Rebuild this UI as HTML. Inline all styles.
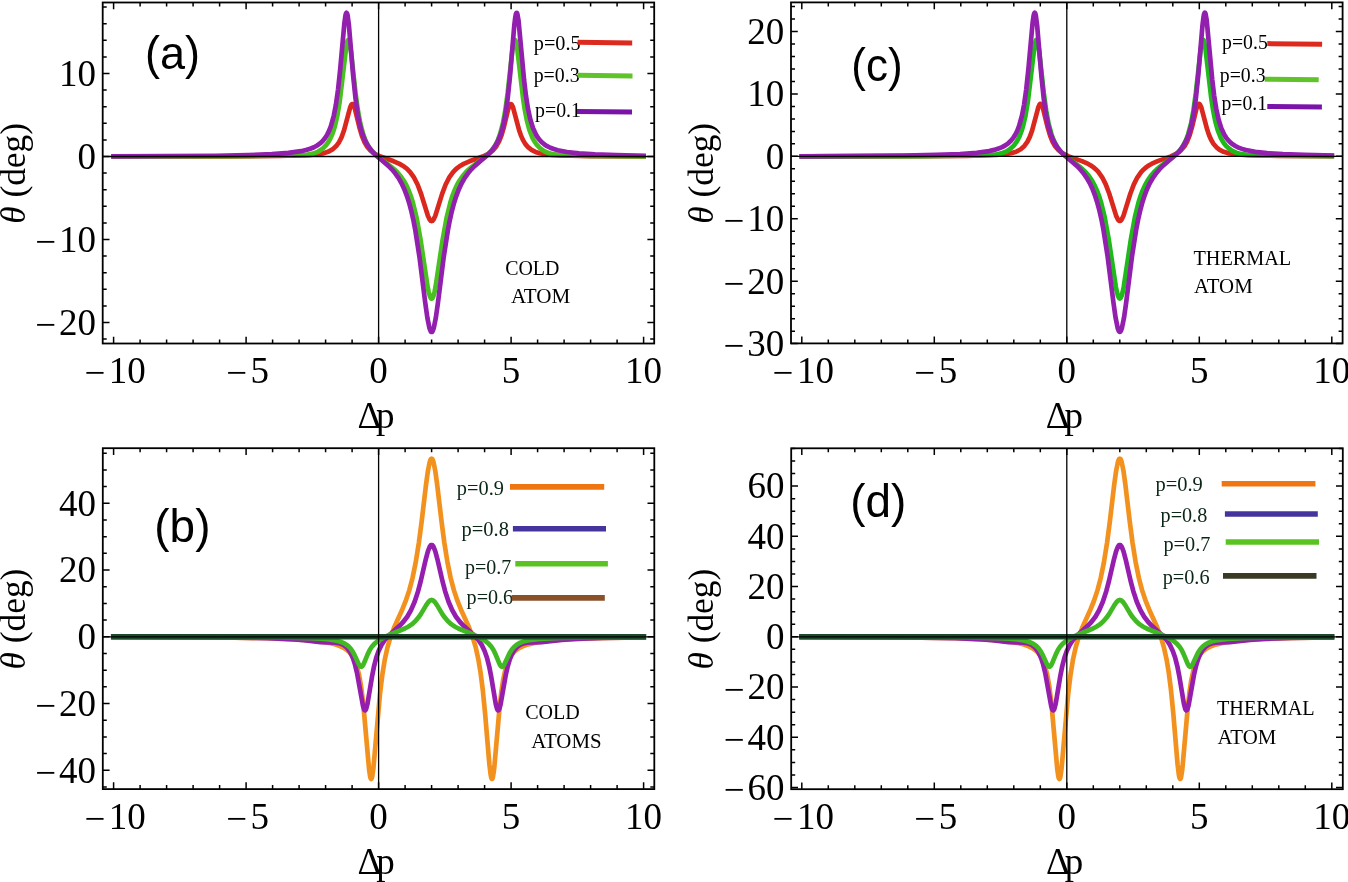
<!DOCTYPE html>
<html><head><meta charset="utf-8"><style>
html,body{margin:0;padding:0;background:#fff;}
svg{display:block;will-change:transform;}
</style></head><body>
<svg width="1348" height="882" viewBox="0 0 1348 882">
<rect width="1348" height="882" fill="#fff"/>
<clipPath id="clipA"><rect x="102.7" y="2.5" width="551.5" height="341"/></clipPath>
<clipPath id="clipC"><rect x="791" y="2.4" width="551.6" height="341"/></clipPath>
<clipPath id="clipB"><rect x="102.8" y="448.2" width="551.5" height="340.9"/></clipPath>
<clipPath id="clipD"><rect x="791.2" y="448.3" width="551.6" height="340.9"/></clipPath>
<g clip-path="url(#clipA)" fill="none" stroke-linejoin="round" stroke-linecap="square">
<polyline points="113.60,156.46 226.23,156.34 278.17,155.98 307.85,155.11 316.33,154.43 322.69,153.43 327.99,151.85 332.49,149.42 336.20,146.09 339.12,142.05 341.50,137.32 343.88,130.80 350.25,107.12 351.31,104.79 351.84,104.18 352.37,104.00 352.90,104.25 353.43,104.93 354.75,108.26 359.52,127.77 361.91,135.81 364.29,141.73 366.94,146.38 370.39,150.44 372.50,152.23 374.89,153.82 380.46,156.52 393.71,161.28 399.54,163.86 402.72,165.68 405.37,167.55 407.75,169.59 410.14,172.10 414.11,177.69 417.56,184.49 421.00,193.63 427.89,215.79 429.75,219.71 430.81,220.87 431.60,221.14 432.40,220.87 433.46,219.71 435.31,215.79 442.20,193.63 445.65,184.49 449.09,177.69 453.07,172.10 455.45,169.59 457.84,167.55 460.49,165.68 463.67,163.86 469.50,161.28 482.75,156.52 488.31,153.82 490.70,152.23 492.81,150.44 496.26,146.38 499.18,141.17 501.56,135.03 503.95,126.74 508.19,109.16 509.51,105.42 510.57,104.07 511.10,104.04 511.63,104.43 512.96,107.12 519.05,129.95 520.90,135.36 523.03,140.14 525.41,144.09 528.33,147.47 531.50,149.95 535.48,151.95 539.72,153.25 545.02,154.20 551.91,154.88 561.45,155.40 590.87,156.06 643.60,156.35" stroke="#da281e" stroke-width="4.7"/>
<polyline points="113.60,156.48 232.06,156.27 290.36,155.52 301.49,155.17 307.85,154.64 313.15,153.57 317.65,151.84 320.57,150.16 323.22,148.11 325.60,145.70 327.99,142.57 329.84,139.46 331.70,135.56 333.29,131.39 334.88,126.23 337.26,116.02 339.65,101.87 346.27,46.56 347.33,41.44 347.86,40.17 348.39,39.86 348.92,40.53 349.45,42.15 350.78,49.81 355.55,93.01 357.93,110.54 360.31,123.41 363.23,134.36 365.09,139.42 366.94,143.44 369.06,147.12 371.45,150.43 374.10,153.39 377.01,156.09 391.32,166.78 394.77,169.74 397.68,172.65 400.86,176.46 403.78,180.73 406.43,185.51 408.81,190.77 410.93,196.42 412.79,202.28 416.50,217.24 420.47,239.09 427.62,286.79 428.69,292.04 429.75,295.92 430.81,298.17 431.60,298.69 432.40,298.17 433.46,295.92 434.52,292.04 435.58,286.79 442.73,239.09 446.71,217.24 450.42,202.28 452.27,196.42 454.39,190.77 456.78,185.51 459.43,180.73 462.34,176.46 465.52,172.65 468.44,169.74 471.88,166.78 486.19,156.09 489.11,153.39 491.75,150.43 494.14,147.12 496.26,143.44 498.12,139.42 499.97,134.36 502.89,123.41 505.27,110.54 507.66,93.01 512.42,49.81 513.75,42.15 514.28,40.53 514.81,39.86 515.34,40.17 515.87,41.44 517.20,48.29 523.03,98.10 524.88,110.28 527.00,120.98 529.38,129.80 532.30,137.35 533.89,140.42 535.75,143.34 537.60,145.70 539.72,147.87 543.70,150.83 547.93,152.87 552.71,154.20 558.54,154.97 567.81,155.39 591.39,155.88 643.60,156.33" stroke="#48c020" stroke-width="4.7"/>
<polyline points="113.60,156.44 215.62,155.75 248.22,155.09 271.81,154.17 288.50,152.94 300.96,151.20 305.99,150.06 310.23,148.77 313.94,147.25 317.12,145.52 320.04,143.43 322.69,140.95 325.07,138.02 327.19,134.65 329.05,130.89 330.90,126.10 333.82,115.55 335.94,104.52 338.06,89.47 340.18,69.50 344.42,22.77 345.48,15.44 346.00,13.46 346.54,12.76 347.06,13.42 347.60,15.40 348.92,25.40 353.16,75.69 355.55,98.69 357.93,115.10 359.25,121.97 360.85,128.60 362.44,133.90 364.29,138.81 366.41,143.22 368.80,147.12 371.18,150.25 374.10,153.41 388.41,165.86 391.85,169.32 395.03,173.05 398.48,177.92 401.66,183.48 404.31,189.15 406.96,196.07 409.08,202.72 411.20,210.59 413.32,219.91 415.17,229.43 419.41,256.58 425.24,302.70 427.36,317.71 429.48,328.21 430.54,331.04 431.07,331.76 431.60,332.00 432.13,331.76 432.66,331.04 433.72,328.21 435.84,317.71 437.96,302.70 443.79,256.58 448.03,229.43 449.88,219.91 452.00,210.59 454.12,202.72 456.25,196.07 458.90,189.15 461.55,183.48 464.73,177.92 468.17,173.05 471.35,169.32 474.80,165.86 489.11,153.41 492.02,150.25 494.41,147.12 496.79,143.22 498.91,138.81 500.77,133.90 502.36,128.60 503.95,121.97 505.27,115.10 507.66,98.69 510.04,75.69 514.28,25.40 515.34,16.85 515.87,14.24 516.40,12.92 516.66,12.76 516.93,12.94 517.46,14.29 518.52,20.57 524.09,80.12 525.94,95.66 528.06,109.07 530.45,119.90 533.10,128.30 536.28,135.12 538.13,138.02 539.99,140.36 542.11,142.52 544.49,144.45 547.14,146.15 550.32,147.73 553.77,149.04 557.74,150.20 567.02,152.00 578.94,153.33 594.84,154.35 616.04,155.12 643.60,155.69" stroke="#931fae" stroke-width="4.7"/>
</g>
<line x1="102.7" y1="156.5" x2="654.2" y2="156.5" stroke="#000" stroke-width="1.3"/><line x1="378.6" y1="2.5" x2="378.6" y2="343.5" stroke="#000" stroke-width="1.3"/>
<g clip-path="url(#clipC)" fill="none" stroke-linejoin="round" stroke-linecap="square">
<polyline points="801.80,156.31 914.42,156.19 966.37,155.83 996.04,154.96 1004.52,154.28 1010.88,153.28 1016.18,151.70 1020.69,149.27 1024.40,145.94 1027.32,141.90 1029.70,137.17 1032.09,130.65 1038.44,106.97 1039.50,104.64 1040.03,104.03 1040.57,103.85 1041.10,104.10 1041.62,104.78 1042.95,108.11 1047.72,127.62 1050.11,135.66 1052.49,141.58 1055.14,146.23 1058.59,150.29 1060.70,152.08 1063.09,153.67 1068.65,156.37 1081.90,161.13 1087.73,163.71 1090.91,165.53 1093.57,167.40 1095.95,169.44 1098.34,171.95 1102.31,177.54 1105.75,184.34 1109.20,193.48 1116.09,215.64 1117.94,219.56 1119.00,220.72 1119.80,220.99 1120.60,220.72 1121.65,219.56 1123.51,215.64 1130.40,193.48 1133.85,184.34 1137.29,177.54 1141.26,171.95 1143.65,169.44 1146.03,167.40 1148.68,165.53 1151.87,163.71 1157.69,161.13 1170.94,156.37 1176.51,153.67 1178.89,152.08 1181.01,150.29 1184.46,146.23 1187.38,141.02 1189.76,134.88 1192.14,126.59 1196.38,109.01 1197.71,105.27 1198.77,103.92 1199.30,103.89 1199.83,104.28 1201.15,106.97 1207.25,129.80 1209.11,135.21 1211.22,139.99 1213.61,143.94 1216.53,147.32 1219.70,149.80 1223.68,151.80 1227.92,153.10 1233.22,154.05 1240.11,154.73 1249.65,155.25 1279.07,155.91 1331.80,156.20" stroke="#da281e" stroke-width="4.7"/>
<polyline points="801.80,156.33 920.25,156.12 978.55,155.37 989.68,155.02 996.04,154.49 1001.34,153.42 1005.85,151.69 1008.76,150.01 1011.41,147.96 1013.80,145.55 1016.18,142.42 1018.04,139.31 1019.89,135.41 1021.48,131.24 1023.07,126.08 1025.46,115.87 1027.85,101.72 1034.47,46.41 1035.53,41.29 1036.06,40.02 1036.59,39.71 1037.12,40.38 1037.65,42.00 1038.97,49.66 1043.74,92.86 1046.13,110.39 1048.51,123.26 1051.43,134.21 1053.28,139.27 1055.14,143.29 1057.26,146.97 1059.64,150.28 1062.29,153.24 1065.21,155.94 1079.52,166.63 1082.96,169.59 1085.88,172.50 1089.06,176.31 1091.97,180.58 1094.62,185.36 1097.01,190.62 1099.13,196.27 1100.98,202.13 1104.69,217.09 1108.67,238.94 1115.83,286.64 1116.88,291.89 1117.94,295.77 1119.00,298.02 1119.80,298.54 1120.60,298.02 1121.65,295.77 1122.71,291.89 1123.77,286.64 1130.93,238.94 1134.90,217.09 1138.62,202.13 1140.47,196.27 1142.59,190.62 1144.97,185.36 1147.62,180.58 1150.54,176.31 1153.72,172.50 1156.63,169.59 1160.08,166.63 1174.39,155.94 1177.30,153.24 1179.95,150.28 1182.34,146.97 1184.46,143.29 1186.32,139.27 1188.17,134.21 1191.09,123.26 1193.47,110.39 1195.86,92.86 1200.62,49.66 1201.95,42.00 1202.48,40.38 1203.01,39.71 1203.54,40.02 1204.07,41.29 1205.39,48.14 1211.22,97.95 1213.08,110.13 1215.20,120.83 1217.59,129.65 1220.50,137.20 1222.09,140.27 1223.94,143.19 1225.80,145.55 1227.92,147.72 1231.89,150.68 1236.13,152.72 1240.90,154.05 1246.73,154.82 1256.01,155.24 1279.60,155.73 1331.80,156.18" stroke="#1fb91a" stroke-width="4.7"/>
<polyline points="801.80,156.29 903.82,155.60 936.42,154.94 960.00,154.02 976.70,152.79 989.15,151.05 994.19,149.91 998.43,148.62 1002.14,147.10 1005.32,145.37 1008.23,143.29 1010.88,140.80 1013.27,137.87 1015.39,134.50 1017.25,130.74 1019.10,125.95 1022.01,115.40 1024.13,104.37 1026.25,89.32 1028.38,69.35 1032.62,22.62 1033.67,15.29 1034.20,13.31 1034.73,12.61 1035.26,13.27 1035.79,15.24 1037.12,25.25 1041.36,75.54 1043.74,98.54 1046.13,114.95 1047.45,121.82 1049.04,128.45 1050.63,133.75 1052.49,138.66 1054.61,143.07 1056.99,146.97 1059.38,150.10 1062.29,153.26 1076.61,165.71 1080.05,169.17 1083.23,172.90 1086.67,177.77 1089.86,183.33 1092.50,189.00 1095.15,195.92 1097.27,202.57 1099.39,210.44 1101.51,219.76 1103.37,229.28 1107.61,256.43 1113.44,302.55 1115.56,317.56 1117.68,328.06 1118.74,330.89 1119.27,331.61 1119.80,331.85 1120.33,331.61 1120.86,330.89 1121.92,328.06 1124.04,317.56 1126.16,302.55 1131.99,256.43 1136.23,229.28 1138.09,219.76 1140.20,210.44 1142.33,202.57 1144.44,195.92 1147.10,189.00 1149.74,183.33 1152.92,177.77 1156.37,172.90 1159.55,169.17 1162.99,165.71 1177.30,153.26 1180.22,150.10 1182.61,146.97 1184.99,143.07 1187.11,138.66 1188.96,133.75 1190.55,128.45 1192.14,121.82 1193.47,114.95 1195.86,98.54 1198.24,75.54 1202.48,25.25 1203.54,16.71 1204.07,14.09 1204.60,12.77 1204.87,12.61 1205.13,12.79 1205.66,14.14 1206.72,20.42 1212.28,79.97 1214.14,95.51 1216.26,108.92 1218.64,119.75 1221.30,128.15 1224.47,134.97 1226.33,137.87 1228.18,140.21 1230.30,142.37 1232.69,144.30 1235.34,146.00 1238.52,147.58 1241.96,148.89 1245.94,150.05 1255.21,151.85 1267.14,153.18 1283.04,154.20 1304.24,154.97 1331.80,155.54" stroke="#931fae" stroke-width="4.7"/>
</g>
<line x1="791" y1="156.35" x2="1342.6" y2="156.35" stroke="#000" stroke-width="1.3"/><line x1="1066.8" y1="2.4" x2="1066.8" y2="343.4" stroke="#000" stroke-width="1.3"/>
<g clip-path="url(#clipB)" fill="none" stroke-linejoin="round" stroke-linecap="square">
<polyline points="113.60,637.09 232.59,637.68 266.77,638.23 291.42,639.05 310.50,640.30 324.81,642.07 330.63,643.21 335.67,644.54 339.91,646.03 343.62,647.80 346.54,649.68 348.92,651.71 351.31,654.45 353.16,657.30 354.75,660.47 356.34,664.57 358.99,674.46 361.11,686.42 363.23,703.44 369.06,769.13 370.12,776.41 370.65,778.33 371.18,778.98 371.71,778.32 372.24,776.41 373.30,769.22 379.93,694.52 382.31,674.81 384.70,660.08 387.35,647.89 390.53,637.03 394.24,627.31 402.19,609.71 405.63,601.24 409.34,590.13 412.52,578.02 415.70,562.50 418.88,542.60 421.53,522.46 426.04,484.58 427.89,471.16 429.75,461.91 430.81,459.21 431.60,458.59 432.40,459.21 433.46,461.91 435.31,471.16 437.17,484.58 441.67,522.46 444.32,542.60 447.50,562.50 450.68,578.02 453.86,590.13 457.57,601.24 461.01,609.71 468.97,627.31 472.68,637.03 475.86,647.89 478.50,660.08 480.62,672.95 482.75,689.64 485.13,713.89 489.37,764.26 490.70,775.01 491.23,777.52 491.75,778.81 492.02,778.98 492.29,778.82 492.81,777.52 494.14,769.13 499.71,705.97 501.30,692.15 503.15,679.89 505.27,669.95 507.92,661.71 509.51,658.27 511.10,655.57 512.96,653.13 514.81,651.21 517.20,649.30 520.11,647.52 523.56,645.93 527.27,644.62 536.54,642.40 548.73,640.69 563.84,639.47 583.45,638.59 609.15,637.97 643.60,637.55" stroke="#f2911e" stroke-width="4.7"/>
<polyline points="113.60,636.98 215.62,637.31 267.83,638.09 294.07,639.34 303.87,640.22 320.57,642.13 334.88,642.65 339.91,643.49 342.03,644.27 343.88,645.27 345.74,646.64 347.33,648.20 350.25,652.30 352.90,658.03 355.02,664.62 357.14,673.55 362.97,705.89 364.03,709.31 364.56,710.16 365.09,710.38 365.62,709.94 366.15,708.87 367.47,703.79 371.98,676.80 374.10,666.07 376.22,657.82 378.60,650.92 381.52,644.86 384.96,639.77 388.94,635.41 398.74,626.61 402.98,622.24 407.22,616.71 410.93,610.30 414.64,601.73 418.09,591.16 420.47,582.19 425.77,559.33 427.89,551.39 429.75,546.68 430.81,545.31 431.60,545.00 432.40,545.31 433.46,546.68 435.31,551.39 437.43,559.33 442.73,582.19 445.12,591.16 448.56,601.73 452.27,610.30 455.98,616.71 460.22,622.24 464.46,626.61 474.26,635.41 478.24,639.77 481.69,644.86 484.60,650.92 486.99,657.82 489.11,666.07 491.23,676.80 495.73,703.79 497.06,708.87 497.59,709.94 498.12,710.38 498.65,710.16 499.18,709.31 500.50,704.73 505.80,674.85 507.66,666.62 509.51,660.26 511.63,654.87 514.28,650.20 517.20,646.87 520.64,644.52 523.82,643.34 527.27,642.74 541.58,642.22 561.72,639.98 575.50,638.92 602.26,637.91 643.60,637.34" stroke="#961eaf" stroke-width="4.7"/>
<polyline points="113.60,636.91 220.66,637.09 277.90,637.45 310.23,638.15 320.83,638.70 329.05,639.45 335.41,640.44 340.44,641.76 344.42,643.44 347.86,645.76 350.25,648.14 352.37,651.04 354.49,654.87 358.99,664.69 360.31,666.44 361.38,666.78 362.44,666.05 363.50,664.37 367.74,654.12 369.86,649.82 371.98,646.57 374.62,643.63 378.34,640.72 383.90,637.49 390.79,634.23 404.84,628.49 408.55,626.53 411.73,624.39 415.44,621.09 418.62,617.32 421.00,613.83 426.04,605.34 428.16,602.24 430.01,600.47 431.60,599.96 433.19,600.47 435.05,602.24 437.17,605.34 442.20,613.83 444.59,617.32 447.76,621.09 451.48,624.39 454.66,626.53 458.37,628.49 472.41,634.23 479.30,637.49 484.87,640.72 488.58,643.63 491.23,646.57 493.35,649.82 495.47,654.12 499.71,664.37 500.77,666.05 501.83,666.78 502.89,666.44 503.95,665.14 509.78,652.83 511.90,649.48 514.02,646.99 516.66,644.74 519.58,643.04 523.29,641.59 527.53,640.50 533.10,639.58 539.99,638.88 559.33,637.93 590.87,637.39 643.60,637.08" stroke="#41b923" stroke-width="4.7"/>
<polyline points="113.60,636.80 643.60,636.80" stroke="#1e4a2c" stroke-width="5.4"/>
</g>
<line x1="102.8" y1="636.8" x2="654.3" y2="636.8" stroke="#000" stroke-width="1.3"/><line x1="378.6" y1="448.2" x2="378.6" y2="789.1" stroke="#000" stroke-width="1.3"/>
<g clip-path="url(#clipD)" fill="none" stroke-linejoin="round" stroke-linecap="square">
<polyline points="801.80,637.09 920.78,637.68 954.97,638.23 979.62,639.05 998.69,640.30 1013.00,642.07 1018.83,643.21 1023.87,644.54 1028.11,646.03 1031.82,647.80 1034.73,649.68 1037.12,651.71 1039.50,654.45 1041.36,657.30 1042.95,660.47 1044.54,664.57 1047.19,674.46 1049.31,686.42 1051.43,703.44 1057.26,769.13 1058.32,776.41 1058.85,778.33 1059.38,778.98 1059.91,778.32 1060.44,776.41 1061.50,769.22 1068.12,694.52 1070.51,674.81 1072.89,660.07 1075.54,647.89 1078.72,637.03 1082.43,627.31 1090.38,609.71 1093.83,601.24 1097.54,590.13 1100.72,578.02 1103.90,562.50 1107.08,542.60 1109.73,522.46 1114.23,484.58 1116.09,471.16 1117.94,461.91 1119.00,459.21 1119.80,458.59 1120.60,459.21 1121.65,461.91 1123.51,471.16 1125.37,484.58 1129.87,522.46 1132.52,542.60 1135.70,562.50 1138.88,578.02 1142.06,590.13 1145.77,601.24 1149.21,609.71 1157.16,627.31 1160.88,637.03 1164.05,647.89 1166.70,660.07 1168.83,672.95 1170.94,689.64 1173.33,713.89 1177.57,764.26 1178.89,775.01 1179.42,777.52 1179.95,778.81 1180.22,778.98 1180.48,778.82 1181.01,777.52 1182.34,769.13 1187.90,705.97 1189.49,692.15 1191.35,679.89 1193.47,669.95 1196.12,661.71 1197.71,658.27 1199.30,655.57 1201.15,653.13 1203.01,651.21 1205.39,649.30 1208.31,647.52 1211.75,645.93 1215.46,644.62 1224.74,642.40 1236.93,640.69 1252.03,639.47 1271.64,638.59 1297.35,637.97 1331.80,637.55" stroke="#f2911e" stroke-width="4.7"/>
<polyline points="801.80,636.98 903.82,637.31 956.03,638.09 982.26,639.34 992.07,640.22 1008.76,642.13 1023.07,642.65 1028.11,643.49 1030.23,644.27 1032.09,645.27 1033.94,646.64 1035.53,648.20 1038.44,652.30 1041.10,658.03 1043.21,664.62 1045.34,673.55 1051.16,705.89 1052.22,709.31 1052.75,710.16 1053.28,710.38 1053.82,709.94 1054.35,708.87 1055.67,703.79 1060.17,676.80 1062.29,666.07 1064.41,657.82 1066.80,650.92 1069.71,644.86 1073.16,639.77 1077.13,635.41 1086.94,626.61 1091.18,622.24 1095.42,616.71 1099.13,610.30 1102.84,601.73 1106.28,591.16 1108.67,582.19 1113.97,559.33 1116.09,551.38 1117.94,546.68 1119.00,545.31 1119.80,545.00 1120.60,545.31 1121.65,546.68 1123.51,551.38 1125.63,559.33 1130.93,582.19 1133.32,591.16 1136.76,601.73 1140.47,610.30 1144.18,616.71 1148.42,622.24 1152.66,626.61 1162.46,635.41 1166.44,639.77 1169.88,644.86 1172.80,650.92 1175.18,657.82 1177.30,666.07 1179.42,676.80 1183.93,703.79 1185.25,708.87 1185.78,709.94 1186.32,710.38 1186.85,710.16 1187.38,709.31 1188.70,704.73 1194.00,674.85 1195.86,666.62 1197.71,660.26 1199.83,654.87 1202.48,650.20 1205.39,646.87 1208.84,644.52 1212.02,643.34 1215.46,642.74 1229.78,642.22 1249.91,639.98 1263.69,638.92 1290.46,637.91 1331.80,637.34" stroke="#961eaf" stroke-width="4.7"/>
<polyline points="801.80,636.91 908.86,637.09 966.10,637.45 998.43,638.15 1009.03,638.70 1017.25,639.45 1023.60,640.44 1028.64,641.76 1032.62,643.44 1036.06,645.76 1038.44,648.14 1040.57,651.04 1042.68,654.87 1047.19,664.69 1048.51,666.44 1049.58,666.78 1050.63,666.05 1051.69,664.37 1055.93,654.12 1058.06,649.82 1060.17,646.57 1062.83,643.63 1066.53,640.72 1072.10,637.49 1078.99,634.23 1093.03,628.49 1096.74,626.53 1099.92,624.39 1103.63,621.09 1106.82,617.32 1109.20,613.83 1114.23,605.34 1116.36,602.24 1118.21,600.47 1119.80,599.96 1121.39,600.47 1123.24,602.24 1125.37,605.34 1130.40,613.83 1132.78,617.32 1135.96,621.09 1139.67,624.39 1142.86,626.53 1146.57,628.49 1160.61,634.23 1167.50,637.49 1173.07,640.72 1176.77,643.63 1179.42,646.57 1181.55,649.82 1183.66,654.12 1187.90,664.37 1188.96,666.05 1190.02,666.78 1191.09,666.44 1192.14,665.14 1197.97,652.83 1200.10,649.48 1202.21,646.99 1204.87,644.74 1207.78,643.04 1211.49,641.59 1215.73,640.50 1221.30,639.58 1228.18,638.88 1247.53,637.93 1279.07,637.39 1331.80,637.08" stroke="#41b923" stroke-width="4.7"/>
<polyline points="801.80,636.80 1331.80,636.80" stroke="#1e4a2c" stroke-width="5.4"/>
</g>
<line x1="791.2" y1="636.8" x2="1342.8" y2="636.8" stroke="#000" stroke-width="1.3"/><line x1="1066.8" y1="448.3" x2="1066.8" y2="789.2" stroke="#000" stroke-width="1.3"/>
<path d="M113.60 343.50v-6.8M113.60 2.50v6.8M140.10 343.50v-4.0M140.10 2.50v4.0M166.60 343.50v-4.0M166.60 2.50v4.0M193.10 343.50v-4.0M193.10 2.50v4.0M219.60 343.50v-4.0M219.60 2.50v4.0M246.10 343.50v-6.8M246.10 2.50v6.8M272.60 343.50v-4.0M272.60 2.50v4.0M299.10 343.50v-4.0M299.10 2.50v4.0M325.60 343.50v-4.0M325.60 2.50v4.0M352.10 343.50v-4.0M352.10 2.50v4.0M378.60 343.50v-6.8M378.60 2.50v6.8M405.10 343.50v-4.0M405.10 2.50v4.0M431.60 343.50v-4.0M431.60 2.50v4.0M458.10 343.50v-4.0M458.10 2.50v4.0M484.60 343.50v-4.0M484.60 2.50v4.0M511.10 343.50v-6.8M511.10 2.50v6.8M537.60 343.50v-4.0M537.60 2.50v4.0M564.10 343.50v-4.0M564.10 2.50v4.0M590.60 343.50v-4.0M590.60 2.50v4.0M617.10 343.50v-4.0M617.10 2.50v4.0M643.60 343.50v-6.8M643.60 2.50v6.8M102.70 339.10h4.0M654.20 339.10h-4.0M102.70 322.50h6.8M654.20 322.50h-6.8M102.70 305.90h4.0M654.20 305.90h-4.0M102.70 289.30h4.0M654.20 289.30h-4.0M102.70 272.70h4.0M654.20 272.70h-4.0M102.70 256.10h4.0M654.20 256.10h-4.0M102.70 239.50h6.8M654.20 239.50h-6.8M102.70 222.90h4.0M654.20 222.90h-4.0M102.70 206.30h4.0M654.20 206.30h-4.0M102.70 189.70h4.0M654.20 189.70h-4.0M102.70 173.10h4.0M654.20 173.10h-4.0M102.70 156.50h6.8M654.20 156.50h-6.8M102.70 139.90h4.0M654.20 139.90h-4.0M102.70 123.30h4.0M654.20 123.30h-4.0M102.70 106.70h4.0M654.20 106.70h-4.0M102.70 90.10h4.0M654.20 90.10h-4.0M102.70 73.50h6.8M654.20 73.50h-6.8M102.70 56.90h4.0M654.20 56.90h-4.0M102.70 40.30h4.0M654.20 40.30h-4.0M102.70 23.70h4.0M654.20 23.70h-4.0M102.70 7.10h4.0M654.20 7.10h-4.0" stroke="#000" stroke-width="1.5" fill="none"/>
<rect x="102.7" y="2.5" width="551.5" height="341" fill="none" stroke="#000" stroke-width="1.8"/>
<text x="96.00" y="334.90" text-anchor="end" font-family='"Liberation Serif", serif' font-size="37"><tspan dy="2.3">−</tspan><tspan dx="3" dy="-2.3">20</tspan></text>
<text x="96.00" y="251.90" text-anchor="end" font-family='"Liberation Serif", serif' font-size="37"><tspan dy="2.3">−</tspan><tspan dx="3" dy="-2.3">10</tspan></text>
<text x="96.00" y="168.90" text-anchor="end" font-family='"Liberation Serif", serif' font-size="37">0</text>
<text x="96.00" y="85.90" text-anchor="end" font-family='"Liberation Serif", serif' font-size="37">10</text>
<text x="115.10" y="383.10" text-anchor="middle" font-family='"Liberation Serif", serif' font-size="37"><tspan dy="2.3">−</tspan><tspan dx="3.5" dy="-2.3">10</tspan></text>
<text x="247.60" y="383.10" text-anchor="middle" font-family='"Liberation Serif", serif' font-size="37"><tspan dy="2.3">−</tspan><tspan dx="3.5" dy="-2.3">5</tspan></text>
<text x="378.60" y="383.10" text-anchor="middle" font-family='"Liberation Serif", serif' font-size="37">0</text>
<text x="511.10" y="383.10" text-anchor="middle" font-family='"Liberation Serif", serif' font-size="37">5</text>
<text x="643.60" y="383.10" text-anchor="middle" font-family='"Liberation Serif", serif' font-size="37">10</text>
<text x="376.05" y="428.30" text-anchor="middle" font-family='"Liberation Serif", serif' font-size="37">Δ<tspan dx="-5.2">p</tspan></text>
<text transform="translate(24.90,173.40) rotate(-90)" text-anchor="middle" font-family='"Liberation Serif", serif' font-size="36" textLength="100.8" lengthAdjust="spacingAndGlyphs"><tspan font-style="italic">θ</tspan> (deg)</text>
<path d="M801.80 343.40v-6.8M801.80 2.40v6.8M828.30 343.40v-4.0M828.30 2.40v4.0M854.80 343.40v-4.0M854.80 2.40v4.0M881.30 343.40v-4.0M881.30 2.40v4.0M907.80 343.40v-4.0M907.80 2.40v4.0M934.30 343.40v-6.8M934.30 2.40v6.8M960.80 343.40v-4.0M960.80 2.40v4.0M987.30 343.40v-4.0M987.30 2.40v4.0M1013.80 343.40v-4.0M1013.80 2.40v4.0M1040.30 343.40v-4.0M1040.30 2.40v4.0M1066.80 343.40v-6.8M1066.80 2.40v6.8M1093.30 343.40v-4.0M1093.30 2.40v4.0M1119.80 343.40v-4.0M1119.80 2.40v4.0M1146.30 343.40v-4.0M1146.30 2.40v4.0M1172.80 343.40v-4.0M1172.80 2.40v4.0M1199.30 343.40v-6.8M1199.30 2.40v6.8M1225.80 343.40v-4.0M1225.80 2.40v4.0M1252.30 343.40v-4.0M1252.30 2.40v4.0M1278.80 343.40v-4.0M1278.80 2.40v4.0M1305.30 343.40v-4.0M1305.30 2.40v4.0M1331.80 343.40v-6.8M1331.80 2.40v6.8M791.00 343.62h6.8M1342.60 343.62h-6.8M791.00 331.14h4.0M1342.60 331.14h-4.0M791.00 318.65h4.0M1342.60 318.65h-4.0M791.00 306.17h4.0M1342.60 306.17h-4.0M791.00 293.68h4.0M1342.60 293.68h-4.0M791.00 281.20h6.8M1342.60 281.20h-6.8M791.00 268.71h4.0M1342.60 268.71h-4.0M791.00 256.23h4.0M1342.60 256.23h-4.0M791.00 243.75h4.0M1342.60 243.75h-4.0M791.00 231.26h4.0M1342.60 231.26h-4.0M791.00 218.77h6.8M1342.60 218.77h-6.8M791.00 206.29h4.0M1342.60 206.29h-4.0M791.00 193.81h4.0M1342.60 193.81h-4.0M791.00 181.32h4.0M1342.60 181.32h-4.0M791.00 168.83h4.0M1342.60 168.83h-4.0M791.00 156.35h6.8M1342.60 156.35h-6.8M791.00 143.87h4.0M1342.60 143.87h-4.0M791.00 131.38h4.0M1342.60 131.38h-4.0M791.00 118.89h4.0M1342.60 118.89h-4.0M791.00 106.41h4.0M1342.60 106.41h-4.0M791.00 93.92h6.8M1342.60 93.92h-6.8M791.00 81.44h4.0M1342.60 81.44h-4.0M791.00 68.95h4.0M1342.60 68.95h-4.0M791.00 56.47h4.0M1342.60 56.47h-4.0M791.00 43.98h4.0M1342.60 43.98h-4.0M791.00 31.50h6.8M1342.60 31.50h-6.8M791.00 19.02h4.0M1342.60 19.02h-4.0M791.00 6.53h4.0M1342.60 6.53h-4.0" stroke="#000" stroke-width="1.5" fill="none"/>
<rect x="791" y="2.4" width="551.6" height="341" fill="none" stroke="#000" stroke-width="1.8"/>
<text x="784.30" y="356.02" text-anchor="end" font-family='"Liberation Serif", serif' font-size="37"><tspan dy="2.3">−</tspan><tspan dx="3" dy="-2.3">30</tspan></text>
<text x="784.30" y="293.60" text-anchor="end" font-family='"Liberation Serif", serif' font-size="37"><tspan dy="2.3">−</tspan><tspan dx="3" dy="-2.3">20</tspan></text>
<text x="784.30" y="231.17" text-anchor="end" font-family='"Liberation Serif", serif' font-size="37"><tspan dy="2.3">−</tspan><tspan dx="3" dy="-2.3">10</tspan></text>
<text x="784.30" y="168.75" text-anchor="end" font-family='"Liberation Serif", serif' font-size="37">0</text>
<text x="784.30" y="106.33" text-anchor="end" font-family='"Liberation Serif", serif' font-size="37">10</text>
<text x="784.30" y="43.90" text-anchor="end" font-family='"Liberation Serif", serif' font-size="37">20</text>
<text x="803.30" y="383.00" text-anchor="middle" font-family='"Liberation Serif", serif' font-size="37"><tspan dy="2.3">−</tspan><tspan dx="3.5" dy="-2.3">10</tspan></text>
<text x="935.80" y="383.00" text-anchor="middle" font-family='"Liberation Serif", serif' font-size="37"><tspan dy="2.3">−</tspan><tspan dx="3.5" dy="-2.3">5</tspan></text>
<text x="1066.80" y="383.00" text-anchor="middle" font-family='"Liberation Serif", serif' font-size="37">0</text>
<text x="1199.30" y="383.00" text-anchor="middle" font-family='"Liberation Serif", serif' font-size="37">5</text>
<text x="1331.80" y="383.00" text-anchor="middle" font-family='"Liberation Serif", serif' font-size="37">10</text>
<text x="1064.40" y="428.20" text-anchor="middle" font-family='"Liberation Serif", serif' font-size="37">Δ<tspan dx="-5.2">p</tspan></text>
<text transform="translate(713.20,173.30) rotate(-90)" text-anchor="middle" font-family='"Liberation Serif", serif' font-size="36" textLength="100.8" lengthAdjust="spacingAndGlyphs"><tspan font-style="italic">θ</tspan> (deg)</text>
<path d="M113.60 789.10v-6.8M113.60 448.20v6.8M140.10 789.10v-4.0M140.10 448.20v4.0M166.60 789.10v-4.0M166.60 448.20v4.0M193.10 789.10v-4.0M193.10 448.20v4.0M219.60 789.10v-4.0M219.60 448.20v4.0M246.10 789.10v-6.8M246.10 448.20v6.8M272.60 789.10v-4.0M272.60 448.20v4.0M299.10 789.10v-4.0M299.10 448.20v4.0M325.60 789.10v-4.0M325.60 448.20v4.0M352.10 789.10v-4.0M352.10 448.20v4.0M378.60 789.10v-6.8M378.60 448.20v6.8M405.10 789.10v-4.0M405.10 448.20v4.0M431.60 789.10v-4.0M431.60 448.20v4.0M458.10 789.10v-4.0M458.10 448.20v4.0M484.60 789.10v-4.0M484.60 448.20v4.0M511.10 789.10v-6.8M511.10 448.20v6.8M537.60 789.10v-4.0M537.60 448.20v4.0M564.10 789.10v-4.0M564.10 448.20v4.0M590.60 789.10v-4.0M590.60 448.20v4.0M617.10 789.10v-4.0M617.10 448.20v4.0M643.60 789.10v-6.8M643.60 448.20v6.8M102.80 786.99h4.0M654.30 786.99h-4.0M102.80 770.30h6.8M654.30 770.30h-6.8M102.80 753.61h4.0M654.30 753.61h-4.0M102.80 736.92h4.0M654.30 736.92h-4.0M102.80 720.24h4.0M654.30 720.24h-4.0M102.80 703.55h6.8M654.30 703.55h-6.8M102.80 686.86h4.0M654.30 686.86h-4.0M102.80 670.17h4.0M654.30 670.17h-4.0M102.80 653.49h4.0M654.30 653.49h-4.0M102.80 636.80h6.8M654.30 636.80h-6.8M102.80 620.11h4.0M654.30 620.11h-4.0M102.80 603.42h4.0M654.30 603.42h-4.0M102.80 586.74h4.0M654.30 586.74h-4.0M102.80 570.05h6.8M654.30 570.05h-6.8M102.80 553.36h4.0M654.30 553.36h-4.0M102.80 536.67h4.0M654.30 536.67h-4.0M102.80 519.99h4.0M654.30 519.99h-4.0M102.80 503.30h6.8M654.30 503.30h-6.8M102.80 486.61h4.0M654.30 486.61h-4.0M102.80 469.92h4.0M654.30 469.92h-4.0M102.80 453.24h4.0M654.30 453.24h-4.0" stroke="#000" stroke-width="1.5" fill="none"/>
<rect x="102.8" y="448.2" width="551.5" height="340.9" fill="none" stroke="#000" stroke-width="1.8"/>
<text x="96.10" y="782.70" text-anchor="end" font-family='"Liberation Serif", serif' font-size="37"><tspan dy="2.3">−</tspan><tspan dx="3" dy="-2.3">40</tspan></text>
<text x="96.10" y="715.95" text-anchor="end" font-family='"Liberation Serif", serif' font-size="37"><tspan dy="2.3">−</tspan><tspan dx="3" dy="-2.3">20</tspan></text>
<text x="96.10" y="649.20" text-anchor="end" font-family='"Liberation Serif", serif' font-size="37">0</text>
<text x="96.10" y="582.45" text-anchor="end" font-family='"Liberation Serif", serif' font-size="37">20</text>
<text x="96.10" y="515.70" text-anchor="end" font-family='"Liberation Serif", serif' font-size="37">40</text>
<text x="115.10" y="828.70" text-anchor="middle" font-family='"Liberation Serif", serif' font-size="37"><tspan dy="2.3">−</tspan><tspan dx="3.5" dy="-2.3">10</tspan></text>
<text x="247.60" y="828.70" text-anchor="middle" font-family='"Liberation Serif", serif' font-size="37"><tspan dy="2.3">−</tspan><tspan dx="3.5" dy="-2.3">5</tspan></text>
<text x="378.60" y="828.70" text-anchor="middle" font-family='"Liberation Serif", serif' font-size="37">0</text>
<text x="511.10" y="828.70" text-anchor="middle" font-family='"Liberation Serif", serif' font-size="37">5</text>
<text x="643.60" y="828.70" text-anchor="middle" font-family='"Liberation Serif", serif' font-size="37">10</text>
<text x="376.15" y="873.90" text-anchor="middle" font-family='"Liberation Serif", serif' font-size="37">Δ<tspan dx="-5.2">p</tspan></text>
<text transform="translate(25.00,619.05) rotate(-90)" text-anchor="middle" font-family='"Liberation Serif", serif' font-size="36" textLength="100.8" lengthAdjust="spacingAndGlyphs"><tspan font-style="italic">θ</tspan> (deg)</text>
<path d="M801.80 789.20v-6.8M801.80 448.30v6.8M828.30 789.20v-4.0M828.30 448.30v4.0M854.80 789.20v-4.0M854.80 448.30v4.0M881.30 789.20v-4.0M881.30 448.30v4.0M907.80 789.20v-4.0M907.80 448.30v4.0M934.30 789.20v-6.8M934.30 448.30v6.8M960.80 789.20v-4.0M960.80 448.30v4.0M987.30 789.20v-4.0M987.30 448.30v4.0M1013.80 789.20v-4.0M1013.80 448.30v4.0M1040.30 789.20v-4.0M1040.30 448.30v4.0M1066.80 789.20v-6.8M1066.80 448.30v6.8M1093.30 789.20v-4.0M1093.30 448.30v4.0M1119.80 789.20v-4.0M1119.80 448.30v4.0M1146.30 789.20v-4.0M1146.30 448.30v4.0M1172.80 789.20v-4.0M1172.80 448.30v4.0M1199.30 789.20v-6.8M1199.30 448.30v6.8M1225.80 789.20v-4.0M1225.80 448.30v4.0M1252.30 789.20v-4.0M1252.30 448.30v4.0M1278.80 789.20v-4.0M1278.80 448.30v4.0M1305.30 789.20v-4.0M1305.30 448.30v4.0M1331.80 789.20v-6.8M1331.80 448.30v6.8M791.20 787.52h6.8M1342.80 787.52h-6.8M791.20 774.96h4.0M1342.80 774.96h-4.0M791.20 762.40h4.0M1342.80 762.40h-4.0M791.20 749.84h4.0M1342.80 749.84h-4.0M791.20 737.28h6.8M1342.80 737.28h-6.8M791.20 724.72h4.0M1342.80 724.72h-4.0M791.20 712.16h4.0M1342.80 712.16h-4.0M791.20 699.60h4.0M1342.80 699.60h-4.0M791.20 687.04h6.8M1342.80 687.04h-6.8M791.20 674.48h4.0M1342.80 674.48h-4.0M791.20 661.92h4.0M1342.80 661.92h-4.0M791.20 649.36h4.0M1342.80 649.36h-4.0M791.20 636.80h6.8M1342.80 636.80h-6.8M791.20 624.24h4.0M1342.80 624.24h-4.0M791.20 611.68h4.0M1342.80 611.68h-4.0M791.20 599.12h4.0M1342.80 599.12h-4.0M791.20 586.56h6.8M1342.80 586.56h-6.8M791.20 574.00h4.0M1342.80 574.00h-4.0M791.20 561.44h4.0M1342.80 561.44h-4.0M791.20 548.88h4.0M1342.80 548.88h-4.0M791.20 536.32h6.8M1342.80 536.32h-6.8M791.20 523.76h4.0M1342.80 523.76h-4.0M791.20 511.20h4.0M1342.80 511.20h-4.0M791.20 498.64h4.0M1342.80 498.64h-4.0M791.20 486.08h6.8M1342.80 486.08h-6.8M791.20 473.52h4.0M1342.80 473.52h-4.0M791.20 460.96h4.0M1342.80 460.96h-4.0M791.20 448.40h4.0M1342.80 448.40h-4.0" stroke="#000" stroke-width="1.5" fill="none"/>
<rect x="791.2" y="448.3" width="551.6" height="340.9" fill="none" stroke="#000" stroke-width="1.8"/>
<text x="784.50" y="799.92" text-anchor="end" font-family='"Liberation Serif", serif' font-size="37"><tspan dy="2.3">−</tspan><tspan dx="3" dy="-2.3">60</tspan></text>
<text x="784.50" y="749.68" text-anchor="end" font-family='"Liberation Serif", serif' font-size="37"><tspan dy="2.3">−</tspan><tspan dx="3" dy="-2.3">40</tspan></text>
<text x="784.50" y="699.44" text-anchor="end" font-family='"Liberation Serif", serif' font-size="37"><tspan dy="2.3">−</tspan><tspan dx="3" dy="-2.3">20</tspan></text>
<text x="784.50" y="649.20" text-anchor="end" font-family='"Liberation Serif", serif' font-size="37">0</text>
<text x="784.50" y="598.96" text-anchor="end" font-family='"Liberation Serif", serif' font-size="37">20</text>
<text x="784.50" y="548.72" text-anchor="end" font-family='"Liberation Serif", serif' font-size="37">40</text>
<text x="784.50" y="498.48" text-anchor="end" font-family='"Liberation Serif", serif' font-size="37">60</text>
<text x="803.30" y="828.80" text-anchor="middle" font-family='"Liberation Serif", serif' font-size="37"><tspan dy="2.3">−</tspan><tspan dx="3.5" dy="-2.3">10</tspan></text>
<text x="935.80" y="828.80" text-anchor="middle" font-family='"Liberation Serif", serif' font-size="37"><tspan dy="2.3">−</tspan><tspan dx="3.5" dy="-2.3">5</tspan></text>
<text x="1066.80" y="828.80" text-anchor="middle" font-family='"Liberation Serif", serif' font-size="37">0</text>
<text x="1199.30" y="828.80" text-anchor="middle" font-family='"Liberation Serif", serif' font-size="37">5</text>
<text x="1331.80" y="828.80" text-anchor="middle" font-family='"Liberation Serif", serif' font-size="37">10</text>
<text x="1064.60" y="874.00" text-anchor="middle" font-family='"Liberation Serif", serif' font-size="37">Δ<tspan dx="-5.2">p</tspan></text>
<text transform="translate(713.40,619.15) rotate(-90)" text-anchor="middle" font-family='"Liberation Serif", serif' font-size="36" textLength="100.8" lengthAdjust="spacingAndGlyphs"><tspan font-style="italic">θ</tspan> (deg)</text>
<text x="144.90" y="68.90" font-family='"Liberation Sans", sans-serif' font-size="46" fill="#000" textLength="55.09" lengthAdjust="spacingAndGlyphs">(a)</text>
<text x="851.27" y="80.60" font-family='"Liberation Sans", sans-serif' font-size="46" fill="#000" textLength="51.36" lengthAdjust="spacingAndGlyphs">(c)</text>
<text x="154.35" y="542.40" font-family='"Liberation Sans", sans-serif' font-size="46" fill="#000" textLength="56.09" lengthAdjust="spacingAndGlyphs">(b)</text>
<text x="850.25" y="517.40" font-family='"Liberation Sans", sans-serif' font-size="46" fill="#000" textLength="56.09" lengthAdjust="spacingAndGlyphs">(d)</text>
<text x="505.18" y="274.50" font-family='"Liberation Serif", serif' font-size="20.5" fill="#000" textLength="54.21" lengthAdjust="spacingAndGlyphs">COLD</text>
<text x="510.90" y="302.80" font-family='"Liberation Serif", serif' font-size="20.5" fill="#000" textLength="59.39" lengthAdjust="spacingAndGlyphs">ATOM</text>
<text x="1193.43" y="264.90" font-family='"Liberation Serif", serif' font-size="20.5" fill="#000" textLength="97.78" lengthAdjust="spacingAndGlyphs">THERMAL</text>
<text x="1194.01" y="293.40" font-family='"Liberation Serif", serif' font-size="20.5" fill="#000" textLength="58.68" lengthAdjust="spacingAndGlyphs">ATOM</text>
<text x="525.18" y="719.20" font-family='"Liberation Serif", serif' font-size="20.5" fill="#000" textLength="54.63" lengthAdjust="spacingAndGlyphs">COLD</text>
<text x="531.20" y="747.70" font-family='"Liberation Serif", serif' font-size="20.5" fill="#000" textLength="70.44" lengthAdjust="spacingAndGlyphs">ATOMS</text>
<text x="1217.03" y="714.90" font-family='"Liberation Serif", serif' font-size="20.5" fill="#000" textLength="97.68" lengthAdjust="spacingAndGlyphs">THERMAL</text>
<text x="1217.61" y="743.90" font-family='"Liberation Serif", serif' font-size="20.5" fill="#000" textLength="58.68" lengthAdjust="spacingAndGlyphs">ATOM</text>
<text x="533.77" y="49.60" font-family='"Liberation Serif", serif' font-size="20.5" fill="#000" textLength="46.82" lengthAdjust="spacingAndGlyphs">p=0.5</text>
<line x1="577.6" y1="42.3" x2="632.2" y2="43.1" stroke="#dc2a1e" stroke-width="5.0"/>
<text x="533.68" y="81.50" font-family='"Liberation Serif", serif' font-size="20.5" fill="#000" textLength="46.00" lengthAdjust="spacingAndGlyphs">p=0.3</text>
<line x1="577.6" y1="75.3" x2="632.5" y2="75.9" stroke="#60c32a" stroke-width="5.0"/>
<text x="535.08" y="116.50" font-family='"Liberation Serif", serif' font-size="20.5" fill="#000" textLength="45.91" lengthAdjust="spacingAndGlyphs">p=0.1</text>
<line x1="577.0" y1="111.5" x2="632.0" y2="112.1" stroke="#7a14a8" stroke-width="5.0"/>
<text x="1222.08" y="48.70" font-family='"Liberation Serif", serif' font-size="20.5" fill="#000" textLength="45.69" lengthAdjust="spacingAndGlyphs">p=0.5</text>
<line x1="1267.3" y1="43.6" x2="1322.1" y2="44.2" stroke="#dc2a1e" stroke-width="5.0"/>
<text x="1219.78" y="82.30" font-family='"Liberation Serif", serif' font-size="20.5" fill="#000" textLength="45.79" lengthAdjust="spacingAndGlyphs">p=0.3</text>
<line x1="1264.8" y1="79.2" x2="1318.7" y2="79.8" stroke="#60c32a" stroke-width="5.0"/>
<text x="1221.48" y="109.80" font-family='"Liberation Serif", serif' font-size="20.5" fill="#000" textLength="45.70" lengthAdjust="spacingAndGlyphs">p=0.1</text>
<line x1="1267.3" y1="106.4" x2="1321.9" y2="107.0" stroke="#7a14a8" stroke-width="5.0"/>
<text x="456.87" y="494.70" font-family='"Liberation Serif", serif' font-size="20.5" fill="#0b2616" textLength="47.06" lengthAdjust="spacingAndGlyphs">p=0.9</text>
<line x1="510.0" y1="486.9" x2="604.2" y2="486.9" stroke="#f07612" stroke-width="5.6"/>
<text x="461.57" y="535.50" font-family='"Liberation Serif", serif' font-size="20.5" fill="#0b2616" textLength="47.41" lengthAdjust="spacingAndGlyphs">p=0.8</text>
<line x1="512.9" y1="528.8" x2="606.0" y2="528.8" stroke="#46349e" stroke-width="5.6"/>
<text x="465.08" y="574.30" font-family='"Liberation Serif", serif' font-size="20.5" fill="#0b2616" textLength="46.30" lengthAdjust="spacingAndGlyphs">p=0.7</text>
<line x1="515.3" y1="563.8" x2="607.9" y2="563.8" stroke="#5ac322" stroke-width="5.6"/>
<text x="466.58" y="604.30" font-family='"Liberation Serif", serif' font-size="20.5" fill="#0b2616" textLength="46.62" lengthAdjust="spacingAndGlyphs">p=0.6</text>
<line x1="511.7" y1="597.9" x2="604.8" y2="597.9" stroke="#8a5028" stroke-width="5.6"/>
<text x="1155.47" y="490.70" font-family='"Liberation Serif", serif' font-size="20.5" fill="#0b2616" textLength="47.37" lengthAdjust="spacingAndGlyphs">p=0.9</text>
<line x1="1221.7" y1="483.8" x2="1315.4" y2="483.8" stroke="#f07612" stroke-width="5.6"/>
<text x="1160.57" y="521.70" font-family='"Liberation Serif", serif' font-size="20.5" fill="#0b2616" textLength="46.69" lengthAdjust="spacingAndGlyphs">p=0.8</text>
<line x1="1224.9" y1="514.0" x2="1317.8" y2="514.0" stroke="#46349e" stroke-width="5.6"/>
<text x="1163.47" y="550.50" font-family='"Liberation Serif", serif' font-size="20.5" fill="#0b2616" textLength="46.91" lengthAdjust="spacingAndGlyphs">p=0.7</text>
<line x1="1225.7" y1="542.0" x2="1319.0" y2="542.0" stroke="#5ac322" stroke-width="5.6"/>
<text x="1162.67" y="583.80" font-family='"Liberation Serif", serif' font-size="20.5" fill="#0b2616" textLength="46.93" lengthAdjust="spacingAndGlyphs">p=0.6</text>
<line x1="1223.0" y1="575.9" x2="1316.5" y2="575.9" stroke="#3a3a24" stroke-width="5.6"/>
</svg>
</body></html>
